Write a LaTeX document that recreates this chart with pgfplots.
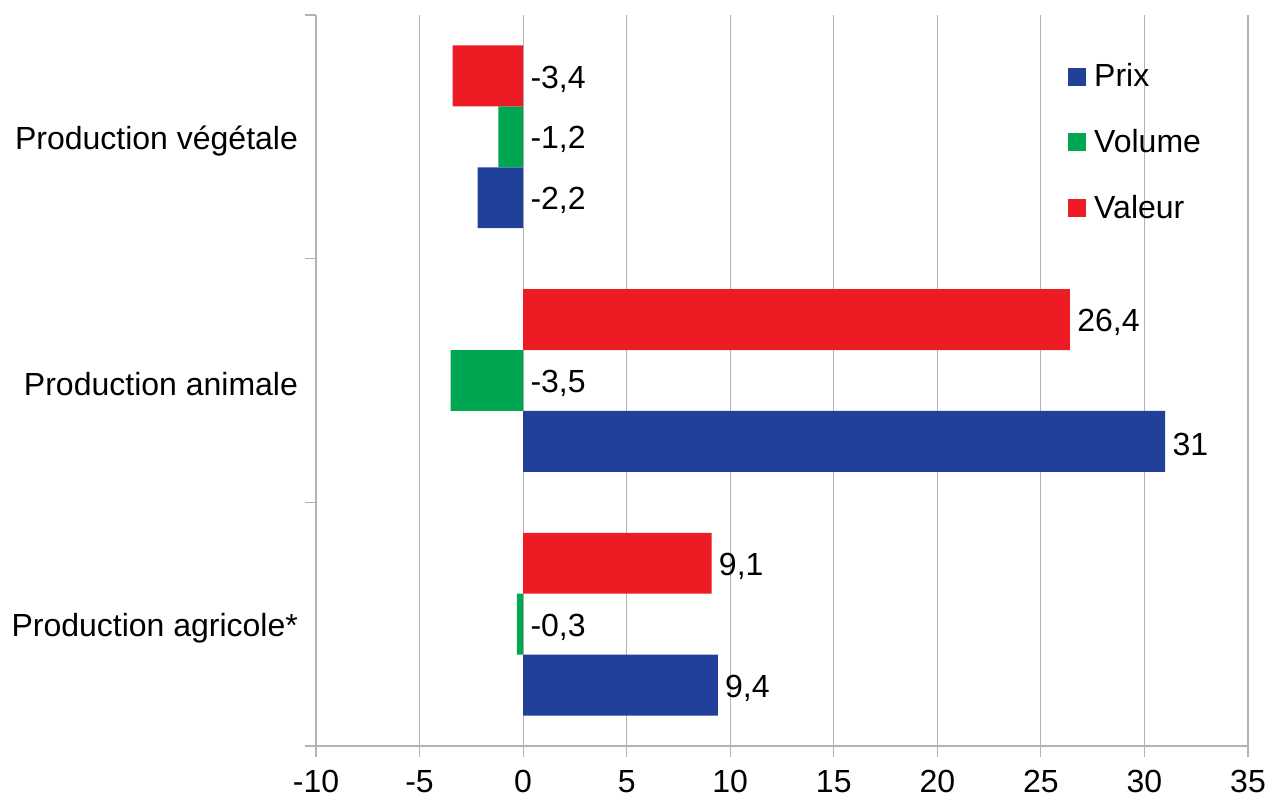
\documentclass[border=0pt]{standalone}
\usepackage{fontspec}
\setmainfont{Liberation Sans}
\usepackage{pgfplots}
\pgfplotsset{compat=1.18}

\definecolor{prix}{HTML}{21409A}
\definecolor{volume}{HTML}{00A651}
\definecolor{valeur}{HTML}{ED1C24}
\definecolor{axisgray}{HTML}{B3B3B3}

\newcommand{\lab}{\fontsize{16}{19.2}\selectfont}

\begin{document}
\begin{tikzpicture}
\path[use as bounding box] (-158pt,-26.5pt) rectangle (475.5pt,373pt);
\begin{axis}[
  at={(0pt,0pt)}, anchor=south west,
  scale only axis, width=466pt, height=365.5pt,
  xbar, bar shift=0pt, bar width=0.25,
  xmin=-10, xmax=35, ymin=0, ymax=3,
  xtick={-10,-5,...,35},
  ytick={0,1,2,3}, yticklabels={,,,},
  extra y ticks={0.5,1.5,2.5},
  extra y tick labels={Production agricole*,Production animale,Production végétale},
  extra y tick style={tick style={draw=none}, yticklabel style={yshift=-2pt}},
  axis x line*=bottom, axis y line*=left,
  axis line style={axisgray, line width=0.6pt},
  tick style={axisgray, line width=0.6pt},
  tick align=outside, major tick length=5.5pt,
  xmajorgrids, grid style={axisgray, line width=0.6pt},
  tick label style={font=\lab, black},
  xticklabel style={yshift=-3pt},
  /pgf/number format/assume math mode=true,
  /pgf/number format/use comma,
  /pgf/number format/fixed, /pgf/number format/precision=1,
  point meta=x,
  nodes near coords,
  visualization depends on={x \as \rawx},
  every node near coord/.append style={font=\lab, black, anchor=west,
    inner xsep=3.5pt, yshift=-1.5pt, xshift={-10.3556*min(\rawx,0)}},
  legend style={at={(rel axis cs:0.7996,0.945)}, anchor=north west,
    draw=none, fill=none, font=\lab, row sep=15.75pt,
    nodes={inner xsep=4.3pt}},
  legend cell align=left,
  legend image code/.code={\fill[#1] (0pt,-4.5pt) rectangle (9pt,4.5pt);},
]
% Prix
\addplot[draw=none, fill=prix] coordinates {(9.4,0.25) (31,1.25) (-2.2,2.25)};
% Volume
\addplot[draw=none, fill=volume] coordinates {(-0.3,0.5) (-3.5,1.5) (-1.2,2.5)};
% Valeur
\addplot[draw=none, fill=valeur] coordinates {(9.1,0.75) (26.4,1.75) (-3.4,2.75)};
\legend{Prix, Volume, Valeur}
\end{axis}
\end{tikzpicture}
\end{document}
